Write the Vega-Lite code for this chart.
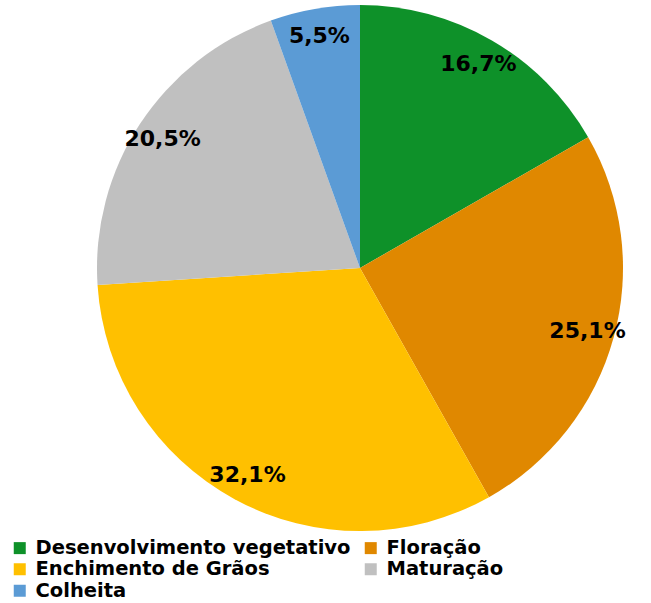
{
  "$schema": "https://vega.github.io/schema/vega-lite/v6.json",
  "autosize": {"type": "none"},
  "width": 520,
  "height": 536,
  "padding": {"left": 100, "top": 0, "right": 31, "bottom": 67},
  "background": "white",
  "config": {"view": {"stroke": null}, "font": "DejaVu Sans"},
  "data": {
    "values": [
      {"fase": "Desenvolvimento vegetativo", "valor": 16.7, "rotulo": "16,7%", "ord": 1},
      {"fase": "Floração", "valor": 25.1, "rotulo": "25,1%", "ord": 2},
      {"fase": "Enchimento de Grãos", "valor": 32.1, "rotulo": "32,1%", "ord": 3},
      {"fase": "Maturação", "valor": 20.5, "rotulo": "20,5%", "ord": 4},
      {"fase": "Colheita", "valor": 5.5, "rotulo": "5,5%", "ord": 5}
    ]
  },
  "encoding": {
    "theta": {"field": "valor", "type": "quantitative", "stack": true},
    "order": {"field": "ord", "type": "quantitative", "sort": "ascending"}
  },
  "layer": [
    {
      "mark": {"type": "arc", "outerRadius": 263},
      "encoding": {
        "color": {
          "field": "fase",
          "type": "nominal",
          "scale": {
            "domain": ["Desenvolvimento vegetativo", "Floração", "Enchimento de Grãos", "Maturação", "Colheita"],
            "range": ["#0E9129", "#E08800", "#FFC000", "#C0C0C0", "#5B9BD5"]
          },
          "legend": {
            "title": null,
            "orient": "none",
            "legendX": -90,
            "legendY": 538,
            "padding": 0,
            "direction": "horizontal",
            "columns": 2,
            "columnPadding": 10,
            "rowPadding": 0.5,
            "symbolType": "square",
            "symbolSize": 144,
            "symbolStrokeWidth": 0,
            "symbolOffset": 0,
            "labelFont": "DejaVu Sans",
            "labelFontWeight": "bold",
            "labelFontSize": 19.5,
            "labelColor": "black",
            "labelOffset": 6,
            "labelLimit": 400
          }
        }
      }
    },
    {
      "mark": {"type": "text", "radius": 236, "font": "DejaVu Sans", "fontWeight": "bold", "fontSize": 22, "color": "black"},
      "encoding": {"text": {"field": "rotulo", "type": "nominal"}}
    }
  ]
}
